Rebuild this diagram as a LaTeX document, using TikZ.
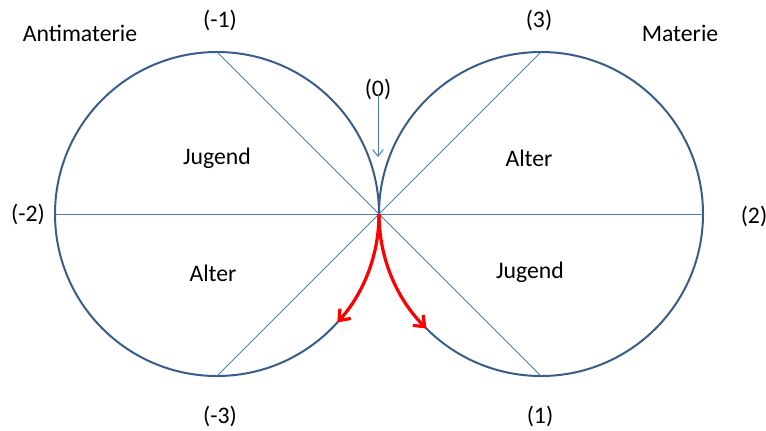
\documentclass[tikz,border=0pt]{standalone}
\usepackage{fontspec}
\setmainfont{Carlito}
\usetikzlibrary{arrows.meta,positioning,calc}
\definecolor{ringblue}{RGB}{56,93,138}
\definecolor{axisblue}{RGB}{74,126,187}
\begin{document}
\begin{tikzpicture}[x=0.75pt, y=-0.75pt,
    every node/.style={font=\fontsize{17.8}{20}\selectfont, inner sep=0pt},
    ring/.style={draw=ringblue, line width=1.5pt},
    axis/.style={draw=axisblue, line width=0.75pt},
    flow/.style={draw=red, line width=2.4pt, -{Straight Barb[length=7pt, width=11pt]}}]
  \useasboundingbox (0,0) rectangle (766,430);
  \coordinate (L) at (217,214);
  \coordinate (R) at (541,214);
  \coordinate (T) at (379,214);
  \coordinate (ltop) at (217,52);
  \coordinate (lbot) at (217,376);
  \coordinate (lwest) at (55,214);
  \coordinate (rtop) at (541,52);
  \coordinate (rbot) at (541,376);
  \coordinate (reast) at (703,214);
  \draw[ring] (L) circle (162);
  \draw[ring] (R) circle (162);
  \draw[axis] (lwest) -- (reast);
  \draw[axis] (ltop) -- (rbot);
  \draw[axis] (rtop) -- (lbot);
  \node (anti) at (80,33) {Antimaterie};
  \node (mat) at (680,33) {Materie};
  \node (m1) at (220,20) {(-1)};
  \node (p3) at (539,20) {(3)};
  \node (m2) at (28,214) {(-2)};
  \node (p2) at (754,216) {(2)};
  \node (m3) at (220,416) {(-3)};
  \node (p1) at (540,416) {(1)};
  \node (zero) at (378,89) {(0)};
  \node (lj) at (217,158) {Jugend};
  \node (la) at (213,273) {Alter};
  \node (ra) at (529,158) {Alter};
  \node (rj) at (530,272) {Jugend};
  \coordinate (zerotip) at (378,157);
  \draw[axis, -{Straight Barb[length=5pt, width=8pt]}] (zero.south) ++(0,-5) -- (zerotip);
  \draw[flow] (T) arc[start angle=0, end angle=42, radius=162];
  \draw[flow] (T) arc[start angle=180, end angle=135, radius=162];
\end{tikzpicture}
\end{document}
